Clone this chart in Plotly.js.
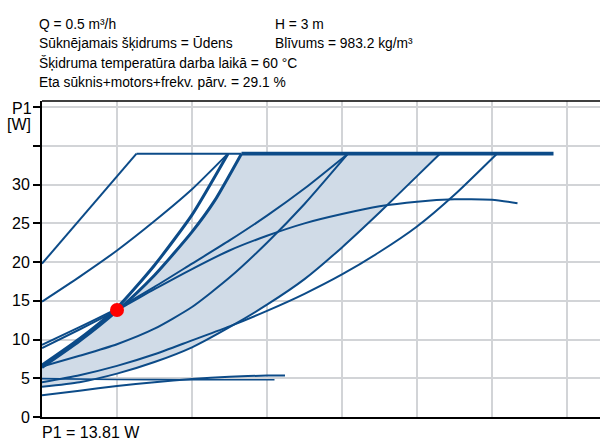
<!DOCTYPE html>
<html>
<head>
<meta charset="utf-8">
<script src="https://cdn.plot.ly/plotly-3.0.1.min.js"></script>
<style>html,body{margin:0;padding:0;background:#fff;}#chart{width:600px;height:443px;}</style>
</head>
<body>
<div id="chart"></div>
<script>
// ---- data (Q in m³/h, P1 in W) ----
const capThinQ = [0.63, 1.33];
const capThinP = [34.0, 34.0];
const capThickQ = [1.33, 3.41];
const capThickP = [34.0, 34.0];

const lineAQ = [0, 0.63];
const lineAP = [19.8, 34.0];

const lineBQ = [0, 0.25, 0.5, 0.75, 1.0, 1.24];
const lineBP = [14.9, 18.1, 21.5, 25.3, 29.4, 34.0];

const bundleUpQ = [0, 0.25, 0.5, 0.75, 1.0, 1.24];
const bundleUpP = [6.7, 10.1, 14.1, 19.6, 26.1, 34.0];

const bundleLowQ = [0, 0.25, 0.5, 0.75, 1.0, 1.15, 1.33];
const bundleLowP = [6.4, 9.8, 13.7, 18.3, 23.9, 27.9, 34.0];

const maxCurveQ = [0, 0.25, 0.5, 0.75, 1.0, 1.25, 1.5, 1.75, 2.0, 2.25, 2.5, 2.75, 3.0, 3.17];
const maxCurveP = [8.9, 11.3, 13.8, 16.5, 19.1, 21.5, 23.4, 25.0, 26.2, 27.2, 27.8, 28.1, 28.05, 27.6];

const c1Q = [0, 0.25, 0.5, 0.75, 1.0, 1.25, 1.5, 1.75, 2.04];
const c1P = [9.3, 11.6, 14.0, 16.8, 19.8, 22.8, 26.0, 29.5, 34.0];

const c2Q = [0, 0.25, 0.5, 0.75, 1.0, 1.25, 1.5, 1.75, 2.04];
const c2P = [6.5, 7.9, 9.4, 11.4, 14.2, 18.0, 22.5, 27.5, 34.0];

const r1Q = [0, 0.25, 0.5, 0.75, 1.0, 1.25, 1.5, 1.75, 2.0, 2.25, 2.5, 2.653];
const r1P = [3.9, 4.5, 5.6, 7.1, 9.0, 11.6, 14.5, 17.8, 21.9, 26.4, 31.1, 34.0];

const r2Q = [0, 0.25, 0.5, 0.75, 1.0, 1.25, 1.5, 1.75, 2.0, 2.25, 2.5, 2.75, 3.033];
const r2P = [4.5, 5.4, 6.6, 8.1, 9.9, 11.7, 13.7, 15.9, 18.4, 21.3, 24.6, 28.7, 34.0];

const flatQ = [0, 0.5, 1.0, 1.55];
const flatP = [4.95, 4.85, 4.8, 4.8];

const speed1Q = [0, 0.25, 0.5, 0.75, 1.0, 1.25, 1.5, 1.62];
const speed1P = [2.8, 3.4, 4.0, 4.5, 4.9, 5.2, 5.35, 5.35];

const opQ = [0.5];
const opP = [13.81];

const yTickVals = [0, 5, 10, 15, 20, 25, 30, 35, 40];
const yTickLabels = ['0', '5', '10', '15', '20', '25', '30', '', ''];

const infoLeft = ['Q = 0.5 m³/h', 'Sūknējamais šķidrums = Ūdens', 'Šķidruma temperatūra darba laikā = 60 °C', 'Eta sūknis+motors+frekv. pārv. = 29.1 %'];
const infoRight = ['H = 3 m', 'Blīvums = 983.2 kg/m³'];
const bottomText = 'P1 = 13.81 W';

// ---- styling ----
const BLUE = '#0c4b88';
const FILL = '#d0dbe7';
const FONT = 'Liberation Sans, Arial, sans-serif';

// shaded AUTOADAPT area: lower thick curve, along cap, back down R1
const areaQ = bundleLowQ.concat([r1Q[r1Q.length - 1]], r1Q.slice().reverse());
const areaP = bundleLowP.concat([r1P[r1P.length - 1]], r1P.slice().reverse());

function line(q, p, w) {
  return {x: q, y: p, type: 'scatter', mode: 'lines', hoverinfo: 'skip',
    line: {color: BLUE, width: w || 2, shape: 'spline', smoothing: 0.6}};
}

const traces = [
  {x: areaQ, y: areaP, type: 'scatter', mode: 'lines', fill: 'toself', fillcolor: FILL,
    line: {width: 0, shape: 'linear'}, hoverinfo: 'skip'},
  line(speed1Q, speed1P, 2),
  line(flatQ, flatP, 1.6),
  line(r2Q, r2P, 2),
  line(r1Q, r1P, 2),
  line(c2Q, c2P, 2),
  line(c1Q, c1P, 2),
  line(maxCurveQ, maxCurveP, 2),
  line(lineAQ, lineAP, 2),
  line(lineBQ, lineBP, 2),
  line(bundleUpQ, bundleUpP, 3),
  line(bundleLowQ, bundleLowP, 3),
  line(capThinQ, capThinP, 2),
  line(capThickQ, capThickP, 3.6),
  {x: opQ, y: opP, type: 'scatter', mode: 'markers', hoverinfo: 'skip',
    marker: {color: '#ff0000', size: 14, line: {width: 0}}}
];

const L = 42, T = 101, B = 26, W = 600, H = 443;
const plotW = W - L, plotH = H - T - B;
const px = v => (v - L) / plotW;
const py = v => (H - B - v) / plotH;

const annotations = [];
const rowsY = [24, 43.5, 63, 82.5];
infoLeft.forEach((t, i) => annotations.push({text: t, xref: 'paper', yref: 'paper', x: px(37), y: py(rowsY[i]),
  xanchor: 'left', yanchor: 'middle', showarrow: false, font: {family: FONT, size: 13.8, color: '#000'}}));
infoRight.forEach((t, i) => annotations.push({text: t, xref: 'paper', yref: 'paper', x: px(273), y: py(rowsY[i]),
  xanchor: 'left', yanchor: 'middle', showarrow: false, font: {family: FONT, size: 13.8, color: '#000'}}));
annotations.push({text: bottomText, xref: 'paper', yref: 'paper', x: px(40), y: py(432.5),
  xanchor: 'left', yanchor: 'middle', showarrow: false, font: {family: FONT, size: 16, color: '#000'}});
annotations.push({text: 'P1', xref: 'paper', yref: 'paper', x: px(34), y: py(108.5),
  xanchor: 'right', yanchor: 'middle', showarrow: false, font: {family: FONT, size: 16, color: '#000'}});
annotations.push({text: '[W]', xref: 'paper', yref: 'paper', x: px(33), y: py(125),
  xanchor: 'right', yanchor: 'middle', showarrow: false, font: {family: FONT, size: 16, color: '#000'}});

const layout = {
  width: W, height: H,
  margin: {l: L, r: 0, t: T, b: B, pad: 0},
  paper_bgcolor: '#fff', plot_bgcolor: '#fff',
  showlegend: false,
  font: {family: FONT, size: 16, color: '#000'},
  xaxis: {range: [0, 3.72], dtick: 0.5, tick0: 0, showgrid: true, gridcolor: '#d2d4d7', gridwidth: 2,
    showline: true, linecolor: '#000', linewidth: 2, showticklabels: false, ticks: '', zeroline: false, fixedrange: true},
  yaxis: {range: [0, 40.8], tickvals: yTickVals, ticktext: yTickLabels, showgrid: true, gridcolor: '#d2d4d7', gridwidth: 2,
    showline: true, linecolor: '#000', linewidth: 2, ticks: 'outside', ticklen: 7, tickwidth: 2, tickcolor: '#000',
    zeroline: false, fixedrange: true, tickfont: {family: FONT, size: 16, color: '#000'}},
  shapes: [{type: 'line', xref: 'paper', yref: 'paper', x0: 0, x1: 1, y0: 1, y1: 1, line: {color: '#000', width: 1.5}}],
  annotations: annotations
};

Plotly.newPlot('chart', traces, layout, {staticPlot: true, displayModeBar: false});
</script>
</body>
</html>
